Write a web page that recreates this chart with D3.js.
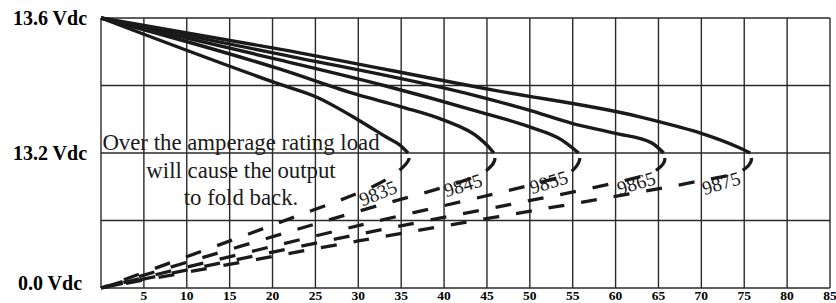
<!DOCTYPE html>
<html><head><meta charset="utf-8">
<script src="https://cdn.jsdelivr.net/npm/d3@7"></script>
<style>html,body{margin:0;padding:0;background:#fff;}svg{display:block;}</style>
</head><body>
<svg id="chart" width="836" height="303"></svg>
<script>
// ---- data ----
const models = ["9835", "9845", "9855", "9865", "9875"];
const xTicks = [5, 10, 15, 20, 25, 30, 35, 40, 45, 50, 55, 60, 65, 70, 75, 80, 85];
const xGrid = [0, 5, 10, 15, 20, 25, 30, 35, 40, 45, 50, 55, 60, 65, 70, 75, 80, 85];
const yGrid = [0, 6.6, 13.2, 13.4, 13.6];
const yTickValues = [13.6, 13.2, 0.0];
const yTickLabels = ["13.6 Vdc", "13.2 Vdc", "0.0 Vdc"];

// regulated (solid) part: [amps, volts]
const solid9835 = [[0,13.6],[20.8,13.404],[25.1,13.366],[30.0,13.298],[33.2,13.248],[35.1,13.218],[35.8,13.2]];
const solid9845 = [[0,13.6],[20.8,13.449],[30.0,13.372],[35.0,13.337],[39.9,13.298],[44.1,13.244],[45.2,13.218],[45.8,13.2]];
const solid9855 = [[0,13.6],[20.8,13.476],[33.0,13.40],[44.1,13.322],[49.9,13.278],[53.7,13.239],[55.7,13.2]];
const solid9865 = [[0,13.6],[20.8,13.493],[44.1,13.367],[49.9,13.327],[54.9,13.288],[60.0,13.258],[64.2,13.23],[65.6,13.2]];
const solid9875 = [[0,13.6],[20.8,13.508],[45.6,13.387],[62.7,13.308],[67.3,13.278],[69.9,13.259],[74.3,13.217],[75.7,13.2]];

// foldback (dashed) part, from the knee back to zero: [amps, volts]
const fold9835 = [[35.8,13.2],[35.9,12.6],[34.8,11.5],[31.9,10.0],[20.8,6.4],[0,0]];
const fold9845 = [[45.8,13.2],[45.9,12.5],[44.8,11.4],[42.0,10.4],[30.0,7.5],[0,0]];
const fold9855 = [[55.7,13.2],[55.8,12.5],[54.7,11.3],[52.0,10.5],[30.0,6.1],[0,0]];
const fold9865 = [[65.6,13.2],[65.7,12.4],[64.5,11.4],[61.0,10.5],[30.0,5.24],[0,0]];
const fold9875 = [[75.7,13.2],[75.8,12.4],[74.6,11.4],[70.0,10.5],[30.0,4.6],[0,0]];

const labelAmps = [32.3, 42.2, 52.2, 62.4, 72.3];
const labelVolts = [9.29, 10.07, 10.36, 10.27, 10.27];

const noteLines = ["Over the amperage rating load", "will cause the output", "to fold back."];

// ---- drawing ----
const solids = [solid9835, solid9845, solid9855, solid9865, solid9875];
const folds = [fold9835, fold9845, fold9855, fold9865, fold9875];

const svg = d3.select("#chart");
const x = d3.scaleLinear().domain([0, 85]).range([101, 830]);
const y = d3.scaleLinear().domain([0, 13.2, 13.6]).range([288, 153, 18]);

const grid = svg.append("g").attr("stroke", "#2a2a2a").attr("stroke-width", 1.4);
grid.selectAll("line.v").data(xGrid).join("line").attr("class", "v")
  .attr("x1", d => x(d)).attr("x2", d => x(d)).attr("y1", y(13.6)).attr("y2", y(0));
grid.selectAll("line.h").data(yGrid).join("line").attr("class", "h")
  .attr("x1", x(0)).attr("x2", x(85)).attr("y1", d => y(d)).attr("y2", d => y(d));

// y labels
svg.append("g").selectAll("text").data(yTickValues).join("text")
  .attr("x", 50).attr("y", d => y(d) + (d === 0 ? 2 : 7))
  .attr("text-anchor", "middle")
  .attr("font-family", "Liberation Serif, Times New Roman, serif")
  .attr("font-weight", "bold").attr("font-size", 20)
  .text((d, i) => yTickLabels[i]);

// x labels
svg.append("g").selectAll("text").data(xTicks).join("text")
  .attr("x", d => x(d)).attr("y", 300)
  .attr("text-anchor", "middle")
  .attr("font-family", "Liberation Serif, Times New Roman, serif")
  .attr("font-weight", "bold").attr("font-size", 13.5)
  .text(d => d);

// annotation
svg.append("g").selectAll("text").data(noteLines).join("text")
  .attr("x", 241).attr("y", (d, i) => 150 + i * 27.5)
  .attr("text-anchor", "middle")
  .attr("font-family", "Liberation Serif, Times New Roman, serif")
  .attr("font-size", 22.8).attr("fill", "#1a1a1a")
  .text(d => d);

const solidLine = d3.line().x(d => x(d[0])).y(d => y(d[1])).curve(d3.curveMonotoneX);
const foldLine = d3.line().x(d => x(d[0])).y(d => y(d[1])).curve(d3.curveCatmullRom.alpha(0.5));

svg.append("g").selectAll("path").data(solids).join("path")
  .attr("d", solidLine).attr("fill", "none")
  .attr("stroke", "#1a1a1a").attr("stroke-width", 3.4).attr("stroke-linejoin", "round");

svg.append("g").selectAll("path").data(folds).join("path")
  .attr("d", foldLine).attr("fill", "none")
  .attr("stroke", "#1a1a1a").attr("stroke-width", 3.3)
  .attr("stroke-dasharray", "16,17").attr("stroke-dashoffset", -5);

// model labels
svg.append("g").selectAll("text").data(models).join("text")
  .attr("transform", (d, i) => `translate(${x(labelAmps[i])},${y(labelVolts[i])}) rotate(${i === 0 ? -22 : -17})`)
  .attr("text-anchor", "middle").attr("dy", "0.35em")
  .attr("font-family", "Liberation Serif, Times New Roman, serif")
  .attr("font-size", 19.5).attr("fill", "#1a1a1a")
  .text(d => d);
</script>
</body></html>
